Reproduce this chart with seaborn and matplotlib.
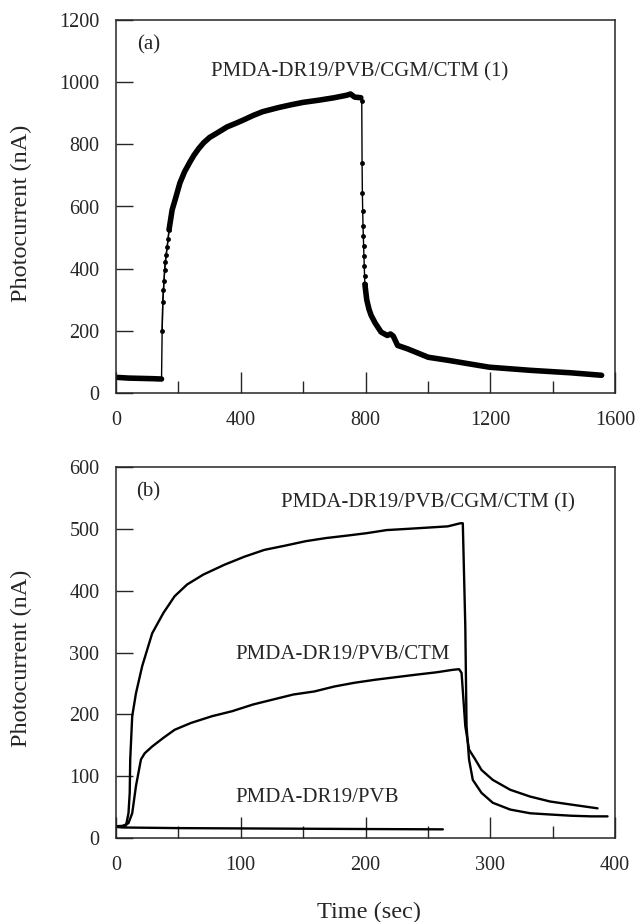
import numpy as np
import pandas as pd
import matplotlib
matplotlib.use("Agg")
import matplotlib.pyplot as plt
import seaborn as sns

# ---------------- data: panel (a) ----------------
a_base_time = [7, 40, 80, 120, 146]
a_base_cur = [50, 48, 47, 46, 45]

a_rise_time = [148, 150, 152, 154, 156, 158, 161, 164, 167, 170]
a_rise_cur = [200, 292, 330, 361, 395, 420, 445, 470, 495, 525]

a_grow_time = [170, 180, 190, 205, 220, 237, 250, 265, 281, 300, 330, 356, 385, 410,
               440, 470, 520, 560, 600, 650, 700, 740, 752, 765, 785]
a_grow_cur = [525, 589, 623, 676, 712, 743, 765, 786, 805, 822, 840, 856, 868, 879,
              893, 905, 918, 927, 935, 942, 950, 958, 962, 952, 950]

a_fall_time = [788, 789, 790, 791, 792, 793, 794, 795, 796, 797, 798]
a_fall_cur = [940, 741, 644, 586, 538, 505, 473, 441, 409, 377, 350]

a_decay_time = [798, 804, 811, 818, 831, 850, 870, 880, 889, 903, 935, 1001, 1066, 1131,
                1197, 1328, 1458, 1557]
a_decay_cur = [350, 300, 270, 250, 225, 196, 185, 190, 183, 153, 142, 115, 105, 94,
               83, 73, 65, 57]

# ---------------- data: panel (b) ----------------
b_cgm_time = [0, 8, 10, 11, 11.4, 13, 16, 21, 29, 38, 47, 57, 70, 87, 103, 119, 136,
              152, 168, 185, 201, 217, 234, 250, 266, 276, 278, 280, 281, 283, 286,
              293, 302, 316, 332, 348, 365, 381, 394]
b_cgm_cur = [19, 20, 40, 73, 127, 197, 234, 278, 331, 364, 391, 410, 426, 442, 455,
             466, 473, 480, 485, 489, 493, 498, 500, 502, 504, 509, 509, 342, 181, 127,
             94, 73, 57, 46, 40, 38, 36, 35, 35]

b_ctm_time = [0, 5, 10, 13, 16, 20, 23, 29, 38, 47, 60, 77, 93, 110, 126, 142, 159,
              175, 191, 208, 224, 240, 257, 270, 275, 277, 280, 283, 288, 293, 302,
              316, 332, 348, 365, 386]
b_ctm_cur = [19, 19, 24, 40, 84, 127, 137, 148, 162, 175, 186, 197, 205, 216, 224,
             232, 237, 245, 251, 256, 260, 264, 268, 272, 273, 267, 181, 143, 127,
             110, 94, 78, 67, 59, 54, 48]

b_pvb_time = [0, 5, 50, 100, 150, 200, 262]
b_pvb_cur = [18, 17, 16, 15.5, 15, 14.5, 14]

a_xticks = [0, 400, 800, 1200, 1600]
a_yticks = [0, 200, 400, 600, 800, 1000, 1200]
b_xticks = [0, 100, 200, 300, 400]
b_yticks = [0, 100, 200, 300, 400, 500, 600]

label_a = "PMDA-DR19/PVB/CGM/CTM (1)"
label_b1 = "PMDA-DR19/PVB/CGM/CTM (I)"
label_b2 = "PMDA-DR19/PVB/CTM"
label_b3 = "PMDA-DR19/PVB"

# ---------------- style ----------------
sns.set_style("ticks")
plt.rcParams["font.family"] = ["Liberation Serif", "DejaVu Serif"]
plt.rcParams["axes.linewidth"] = 1.1

fig = plt.figure(figsize=(6.39, 9.22), dpi=100)
ax1 = fig.add_axes([116 / 639, 1 - 393 / 922, 499 / 639, 373 / 922])
ax2 = fig.add_axes([116 / 639, 1 - 838 / 922, 499 / 639, 371 / 922])

def df(t, c):
    return pd.DataFrame({"t": t, "c": c})

# panel (a)
thick = dict(color="black", linewidth=4.0, estimator=None, sort=False, ax=ax1,
             solid_capstyle="round", solid_joinstyle="round")
sns.lineplot(data=df(a_base_time, a_base_cur), x="t", y="c", **thick)
sns.lineplot(data=df(a_grow_time, a_grow_cur), x="t", y="c", **thick)
sns.lineplot(data=df(a_decay_time, a_decay_cur), x="t", y="c", **thick)
thin = dict(color="black", linewidth=1.0, estimator=None, sort=False, ax=ax1,
            marker="o", markersize=3.5, markeredgewidth=0)
sns.lineplot(data=df([a_base_time[-1]] + a_rise_time, [a_base_cur[-1]] + a_rise_cur),
             x="t", y="c", color="black", linewidth=1.0, estimator=None, sort=False, ax=ax1)
sns.lineplot(data=df(a_rise_time, a_rise_cur), x="t", y="c", **thin)
sns.lineplot(data=df(a_fall_time, a_fall_cur), x="t", y="c", **thin)

ax1.set_xlim(0, 1600)
ax1.set_ylim(0, 1200)
ax1.set_xticks(a_xticks)
ax1.set_xticks([200, 600, 1000, 1400], minor=True)
ax1.set_yticks(a_yticks)
ax1.text(67, 1120, "(a)", fontsize=15, ha="left", va="center")
ax1.text(306, 1033, label_a, fontsize=15, ha="left", va="center")

# panel (b)
lw = dict(color="black", linewidth=1.7, estimator=None, sort=False, ax=ax2)
sns.lineplot(data=df(b_cgm_time, b_cgm_cur), x="t", y="c", **lw)
sns.lineplot(data=df(b_ctm_time, b_ctm_cur), x="t", y="c", **lw)
sns.lineplot(data=df(b_pvb_time, b_pvb_cur), x="t", y="c", **lw)

ax2.set_xlim(0, 400)
ax2.set_ylim(0, 600)
ax2.set_xticks(b_xticks)
ax2.set_xticks([50, 150, 250, 350], minor=True)
ax2.set_yticks(b_yticks)
ax2.text(16, 560, "(b)", fontsize=15, ha="left", va="center")
ax2.text(132, 542, label_b1, fontsize=15, ha="left", va="center")
ax2.text(96, 296, label_b2, fontsize=15, ha="left", va="center")
ax2.text(96, 65, label_b3, fontsize=15, ha="left", va="center")

for ax, yc in ((ax1, 0.483), (ax2, 0.485)):
    for s in ax.spines.values():
        s.set_visible(True)
        s.set_linewidth(1.1)
    ax.tick_params(axis="x", which="major", direction="in", length=15, width=1.0,
                   labelsize=14.5, pad=13, top=False)
    ax.tick_params(axis="x", which="minor", direction="in", length=8.5, width=1.0,
                   top=False)
    ax.tick_params(axis="y", which="major", direction="in", length=12, width=1.0,
                   labelsize=14.5, pad=12, right=False)
    ax.set_ylabel("Photocurrent (nA)", fontsize=17.5)
    ax.yaxis.set_label_coords(-0.168, yc)
    ax.set_xlabel("")

ax2.set_xlabel("Time (sec)", fontsize=17.5)
ax2.xaxis.set_label_coords(0.507, -0.172)

fig.savefig("out.png", dpi=100)
